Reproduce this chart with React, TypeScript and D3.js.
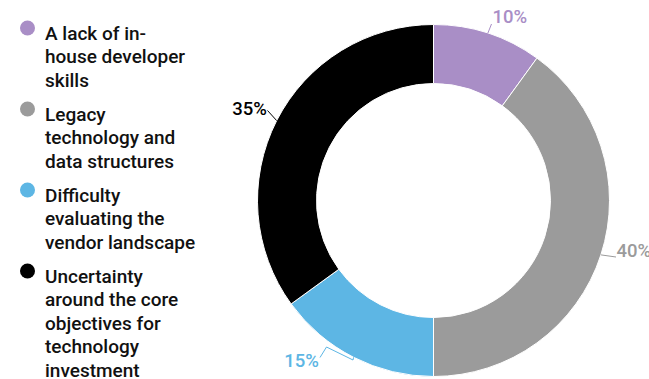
import React from "react";
import * as d3 from "d3";

const categories = [
  "A lack of in-house developer skills",
  "Legacy technology and data structures",
  "Difficulty evaluating the vendor landscape",
  "Uncertainty around the core objectives for technology investment",
];
const legendLines = [
  ["A lack of in-", "house developer", "skills"],
  ["Legacy", "technology and", "data structures"],
  ["Difficulty", "evaluating the", "vendor landscape"],
  ["Uncertainty", "around the core", "objectives for", "technology", "investment"],
];
const values = [10, 40, 15, 35];
const colors = ["#a98ec6", "#9b9b9b", "#5db6e4", "#000000"];

const W = 649;
const H = 379;
const CX = 433.5;
const CY = 200.5;
const R_OUT = 176;
const R_IN = 117;
const FONT = "Roboto, 'Noto Sans', sans-serif";

// label layout: extra leader points (relative to center) and text anchor
const labelLayout = [
  { pts: [[58, -176.5]], tx: 59, ty: -178, anchor: "start" },
  { pts: [[182.5, 56.5]], tx: 183, ty: 56.5, anchor: "start" },
  { pts: [[-80.5, 159.5], [-107, 146.5], [-113.5, 157]], tx: -114.5, ty: 166.5, anchor: "end" },
  { pts: [[-166, -90]], tx: -166.5, ty: -85.5, anchor: "end" },
];

export default function App() {
  const pie = d3
    .pie<number>()
    .sort(null)
    .value((d) => d)
    .startAngle(0)
    .endAngle(2 * Math.PI);
  const arcs = pie(values);
  const arc = d3.arc<d3.PieArcDatum<number>>().innerRadius(R_IN).outerRadius(R_OUT);
  const edge = d3.arc<d3.PieArcDatum<number>>().innerRadius(R_OUT).outerRadius(R_OUT);
  const line = d3.line();

  const total = d3.sum(values);

  // legend layout
  const lineH = 23.5;
  const groupGap = 10.5;
  let y = 39.5;
  const legend = legendLines.map((lines, i) => {
    const g = { lines, y, color: colors[i], name: categories[i] };
    y += lines.length * lineH + groupGap;
    return g;
  });

  return (
    <svg
      width={W}
      height={H}
      style={{ position: "absolute", left: 0, top: 0, background: "#fff" }}
    >
      <g>
        {legend.map((g, i) => (
          <g key={i}>
            <circle cx={27.5} cy={g.y - 11.5} r={7.5} fill={g.color} />
            <text
              x={45}
              y={g.y}
              fontFamily={FONT}
              fontWeight={500}
              fontSize={19}
              fill="#111"
            >
              {g.lines.map((l, j) => (
                <tspan key={j} x={45} y={g.y + j * lineH}>
                  {l}
                </tspan>
              ))}
            </text>
          </g>
        ))}
      </g>
      <g transform={`translate(${CX},${CY})`}>
        {arcs.map((a, i) => (
          <path key={i} d={arc(a) || ""} fill={colors[i]} stroke="#fff" strokeWidth={1} />
        ))}
        {arcs.map((a, i) => {
          const start = edge.centroid(a) as [number, number];
          const lay = labelLayout[i];
          const pts: [number, number][] = [start, ...(lay.pts as [number, number][])];
          return (
            <g key={"l" + i}>
              <path d={line(pts) || ""} fill="none" stroke={colors[i]} strokeWidth={1} />
              <text
                x={lay.tx}
                y={lay.ty}
                textAnchor={lay.anchor as any}
                fontFamily={FONT}
                fontWeight={500}
                fontSize={18.5}
                fill={colors[i]}
              >
                {`${Math.round((a.data / total) * 100)}%`}
              </text>
            </g>
          );
        })}
      </g>
    </svg>
  );
}
